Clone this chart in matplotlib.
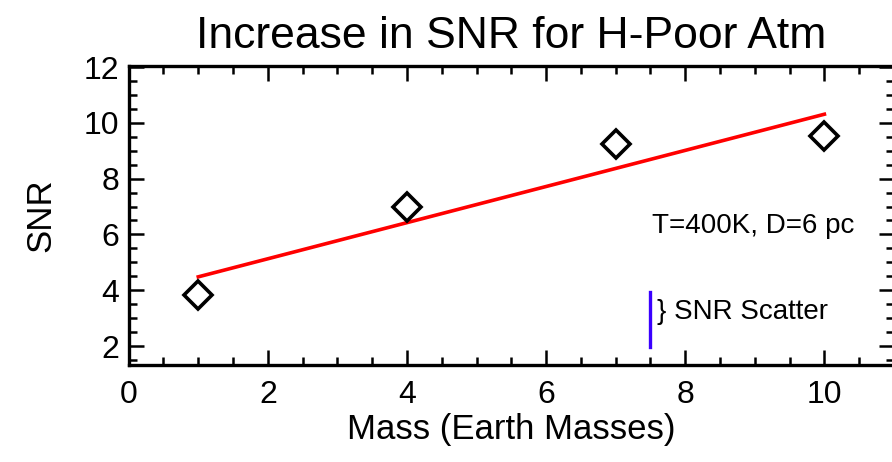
import matplotlib
matplotlib.use("Agg")
import matplotlib.pyplot as plt
from matplotlib.ticker import MultipleLocator

plt.rcParams['font.family'] = ['Liberation Sans', 'DejaVu Sans']

# donnees
masse = [1, 4, 7, 10]
snr = [3.82, 7.0, 9.24, 9.54]
fit_x = [1, 10]
fit_y = [4.48, 10.31]
scatter_x = [7.5, 7.5]
scatter_y = [1.95, 3.95]

fig = plt.figure(figsize=(8.92, 4.62), dpi=100)
ax = fig.add_axes([0.1443, 0.21, 1.0022 - 0.1443, 0.8578 - 0.21])

ax.plot(fit_x, fit_y, color='#ff0000', lw=2.6)
ax.plot(masse, snr, linestyle='none', marker='D', markersize=14.5,
        markerfacecolor='none', markeredgecolor='black', markeredgewidth=2.6)
ax.plot(scatter_x, scatter_y, color='#3a00ff', lw=2.4)

ax.text(7.52, 6.32, "T=400K, D=6 pc", fontsize=20, ha='left', va='center')
ax.text(7.6, 3.23, "} SNR Scatter", fontsize=20, ha='left', va='center')

ax.set_xlim(0, 11)
ax.set_ylim(1.32, 12.05)
ax.xaxis.set_major_locator(MultipleLocator(2))
ax.xaxis.set_minor_locator(MultipleLocator(0.5))
ax.yaxis.set_major_locator(MultipleLocator(2))
ax.yaxis.set_minor_locator(MultipleLocator(0.5))

ax.tick_params(which='both', direction='in', top=True, right=True, width=1.8)
ax.tick_params(which='major', length=11, labelsize=23)
ax.tick_params(which='minor', length=5.5)
ax.tick_params(axis='x', which='major', pad=11)
ax.tick_params(axis='y', which='major', pad=7)
for s in ax.spines.values():
    s.set_linewidth(2.4)

ax.set_xlabel("Mass (Earth Masses)", fontsize=25, labelpad=2)
ax.set_ylabel("SNR", fontsize=25, labelpad=19)
ax.set_title("Increase in SNR for H-Poor Atm", fontsize=32, pad=13)

fig.savefig("out.png", dpi=100)
